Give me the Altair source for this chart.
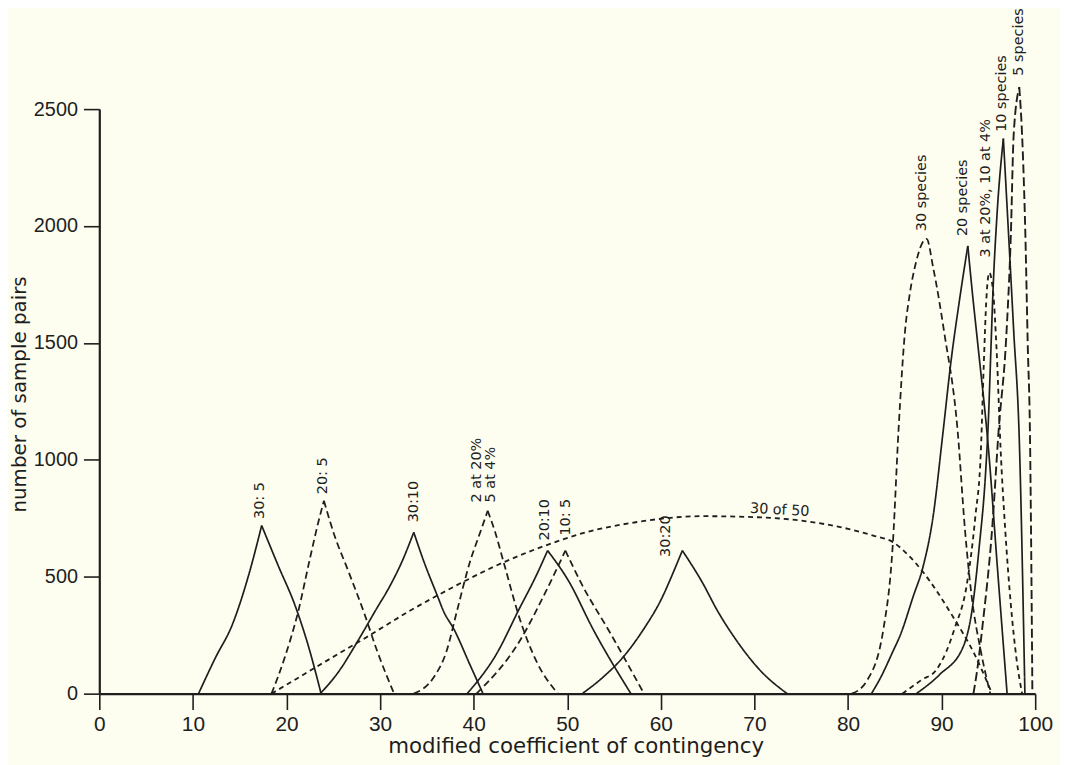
import altair as alt
import pandas as pd

# ---- data ----
x_30_5 = [10.6, 12.4, 14.2, 15.95, 17.35, 19.1, 20.9, 22.3, 23.7]
y_30_5 = [0, 153, 294, 506, 719, 549, 379, 209, 0]

x_20_5 = [18.4, 19.8, 21.25, 22.5, 23.4, 24.0, 25.1, 26.55, 28.3, 29.7, 31.5]
y_20_5 = [0, 153, 351, 577, 733, 825, 680, 530, 345, 181, 0]

x_30_10 = [23.6, 25.5, 27.6, 29.5, 31.1, 32.4, 33.6, 34.7, 36.1, 36.8, 37.9, 39.6, 41.0]
y_30_10 = [0, 90, 224, 355, 464, 570, 690, 563, 421, 351, 275, 124, 0]

x_2at = [33.6, 35.7, 37.1, 38.2, 39.6, 40.7, 41.5, 42.3, 43.2, 44.9, 46.7, 49.0]
y_2at = [0, 68, 181, 351, 563, 690, 782, 690, 563, 323, 139, 0]

x_20_10 = [39.3, 42.4, 44.9, 46.7, 47.9, 50.2, 52.7, 56.8]
y_20_10 = [0, 167, 365, 506, 612, 478, 280, 0]

x_10_5 = [40.3, 44.9, 47.7, 49.8, 51.6, 54.5, 58.2]
y_10_5 = [0, 224, 436, 612, 464, 266, 0]

x_30_20 = [51.6, 53.75, 55.9, 58.0, 60.1, 61.5, 62.3, 64.4, 66.1, 67.9, 70.7, 73.5]
y_30_20 = [0, 68, 153, 266, 408, 535, 612, 478, 351, 238, 96, 0]

x_30of50 = [18.4, 20.5, 23.0, 28.7, 33.0, 38.2, 42.0, 47.7, 52.0, 57.3, 64.4, 70.0, 75.0,
            80.0, 82.7, 84.8, 86.5, 88.0, 91.2, 93.5, 95.4]
y_30of50 = [0, 50, 110, 245, 350, 464, 540, 634, 690, 733, 759, 755, 740,
            705, 676, 648, 590, 521, 330, 170, 0]

x_30sp = [80.4, 82.0, 83.8, 84.8, 85.4, 86.1, 86.6, 87.3, 87.9, 88.4, 89.1, 90.3, 91.7,
          92.5, 93.2, 94.2, 95.2]
y_30sp = [0, 54, 280, 648, 1129, 1554, 1710, 1850, 1925, 1945, 1822, 1540, 1130,
          700, 420, 180, 0]

x_20sp = [82.5, 83.5, 84.8, 85.6, 87.0, 88.0, 89.1, 90.1, 91.0, 91.9, 92.8,
          93.3, 93.9, 95.0, 96.0, 97.0]
y_20sp = [0, 70, 181, 252, 420, 540, 760, 1100, 1420, 1680, 1915,
          1710, 1483, 1050, 520, 0]

x_3at = [85.8, 87.9, 89.4, 90.5, 91.4, 92.7, 93.6, 94.2, 94.5, 94.8, 95.1, 95.5,
         95.9, 96.3, 96.8, 97.4, 98.0, 98.6]
y_3at = [0, 60, 100, 180, 280, 468, 755, 1042, 1400, 1700, 1800, 1720,
         1450, 1050, 700, 380, 150, 0]

x_10sp = [87.3, 89.8, 92.3, 93.3, 94.0, 94.7, 95.0, 95.25, 95.5, 95.9, 96.6,
          97.7, 98.3, 98.9]
y_10sp = [0, 82, 200, 370, 620, 945, 1170, 1450, 1730, 2035, 2374,
          1554, 1087, 0]

x_5sp = [93.4, 93.8, 94.4, 95.4, 96.1, 96.9, 97.4, 97.7, 98.3,
         98.6, 98.95, 99.2, 99.45, 99.6, 99.7]
y_5sp = [0, 100, 300, 705, 1129, 1520, 1964, 2390, 2594,
         2390, 1964, 1500, 1087, 500, 0]

series = [
    # name, xs, ys, style, sharp peak
    ("30:5", x_30_5, y_30_5, "solid", True),
    ("20:5", x_20_5, y_20_5, "dashed", True),
    ("30:10", x_30_10, y_30_10, "solid", True),
    ("2 at 20%", x_2at, y_2at, "dashed", True),
    ("20:10", x_20_10, y_20_10, "solid", True),
    ("10:5", x_10_5, y_10_5, "dashed", True),
    ("30:20", x_30_20, y_30_20, "solid", True),
    ("30 of 50", x_30of50, y_30of50, "fine", False),
    ("30 species", x_30sp, y_30sp, "dashed", False),
    ("20 species", x_20sp, y_20sp, "solid", True),
    ("3 at 20%", x_3at, y_3at, "fine", False),
    ("10 species", x_10sp, y_10sp, "solid", True),
    ("5 species", x_5sp, y_5sp, "long", True),
]

lab_text = ["30: 5", "20: 5", "30:10", "2 at 20%", "5 at  4%", "20:10", "10: 5", "30:20",
            "30 species", "20 species", "3 at 20%, 10 at 4%", "10 species", "5 species"]
lab_x = [17.2, 23.9, 33.6, 40.4, 41.9, 47.6, 49.9, 60.6, 87.95, 92.3, 94.7, 96.5, 98.3]
lab_y = [747, 853, 733, 818, 818, 655, 676, 585, 1978, 1957, 1865, 2403, 2643]

curve_label = ["30  of 50"]
curve_label_x = [72.7]
curve_label_y = [784]

x_ticks = list(range(0, 101, 10))
y_ticks = [0, 500, 1000, 1500, 2000, 2500]

# ---- build table ----
rows = []
for name, xs, ys, style, sharp in series:
    if sharp:
        k = ys.index(max(ys))
        parts = [(name + "_L", list(range(0, k + 1))), (name + "_R", list(range(k, len(xs))))]
    else:
        parts = [(name, list(range(len(xs))))]
    for seg, idx in parts:
        for j, i in enumerate(idx):
            rows.append({"seg": seg, "x": xs[i], "y": ys[i], "style": style, "i": j})
df = pd.DataFrame(rows)

lab_df = pd.DataFrame({"x": lab_x, "y": lab_y, "t": lab_text})
cl_df = pd.DataFrame({"x": curve_label_x, "y": curve_label_y, "t": curve_label})

INK = "#1e1e1e"
LFONT = "Liberation Sans"
TFONT = "DejaVu Sans"

xscale = alt.Scale(domain=[0, 100], nice=False, zero=False)
yscale = alt.Scale(domain=[0, 2500], nice=False)

lines = alt.Chart(df).mark_line(interpolate="monotone", color=INK).encode(
    x=alt.X("x:Q", scale=xscale, axis=alt.Axis(
        values=x_ticks, format="d", tickSize=16, tickWidth=1.6, tickColor=INK,
        domainColor=INK, domainWidth=2.2, grid=False,
        labelFont=LFONT, labelFontSize=21, labelColor=INK, labelPadding=4,
        labelFlush=False, labelOverlap=False,
        title="modified coefficient of contingency", titleFont=TFONT,
        titleFontSize=21.5, titleFontWeight="normal", titleColor=INK,
        titleX=480, titleY=53, titleBaseline="middle", titleAlign="center")),
    y=alt.Y("y:Q", scale=yscale, axis=alt.Axis(
        values=y_ticks, format="d", tickSize=16, tickWidth=1.6, tickColor=INK,
        domainColor=INK, domainWidth=2.2, grid=False,
        labelFont=LFONT, labelFontSize=20, labelColor=INK, labelPadding=6,
        labelOverlap=False,
        title="number of sample pairs", titleFont=TFONT,
        titleFontSize=20, titleFontWeight="normal", titleColor=INK,
        titleX=-80, titleY=287, titleAngle=-90, titleBaseline="middle",
        titleAlign="center")),
    detail="seg:N",
    order="i:Q",
    strokeDash=alt.StrokeDash("style:N", scale=alt.Scale(
        domain=["solid", "dashed", "fine", "long"],
        range=[[1, 0], [7, 4], [5, 4], [9, 4]]), legend=None),
    strokeWidth=alt.StrokeWidth("style:N", scale=alt.Scale(
        domain=["solid", "dashed", "fine", "long"],
        range=[1.7, 1.9, 1.7, 2.2]), legend=None),
)

labels = alt.Chart(lab_df).mark_text(
    angle=270, align="left", baseline="middle", font=TFONT, fontSize=14.5, color=INK
).encode(x=alt.X("x:Q", scale=xscale), y=alt.Y("y:Q", scale=yscale), text="t:N")

clabel = alt.Chart(cl_df).mark_text(
    angle=3, align="center", baseline="middle", font=TFONT, fontSize=14.5, color=INK
).encode(x=alt.X("x:Q", scale=xscale), y=alt.Y("y:Q", scale=yscale), text="t:N")

chart = alt.layer(lines, labels, clabel).properties(
    width=943, height=589,
    autosize=alt.AutoSizeParams(type="none"),
    padding={"left": 92, "top": 99, "right": 25, "bottom": 69},
    background="#fdfdf0",
).configure_view(stroke=None)

chart.save("out.html", embed_options={"renderer": "svg", "actions": False})
